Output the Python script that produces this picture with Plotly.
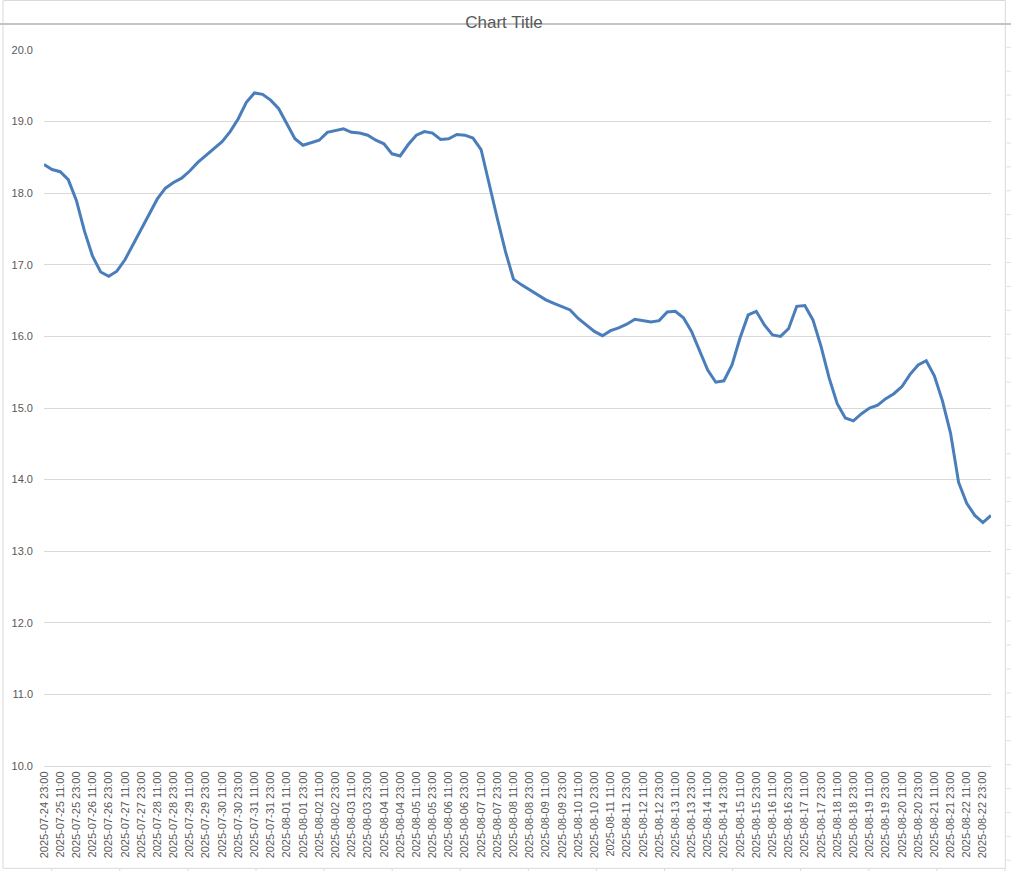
import pandas as pd
import plotly.graph_objects as go

# ---- data ----
start_time = "2025-07-24 23:00"
step_hours = 6
values = [
    18.40, 18.33, 18.30, 18.19, 17.90, 17.47, 17.12, 16.90, 16.84, 16.91,
    17.07, 17.28, 17.49, 17.71, 17.92, 18.07, 18.15, 18.21, 18.31, 18.43,
    18.53, 18.62, 18.72, 18.86, 19.04, 19.27, 19.40, 19.38, 19.30, 19.18,
    18.97, 18.76, 18.67, 18.71, 18.74, 18.85, 18.88, 18.90, 18.85, 18.84,
    18.81, 18.74, 18.69, 18.55, 18.52, 18.68, 18.81, 18.86, 18.84, 18.75,
    18.76, 18.82, 18.81, 18.77, 18.61, 18.12, 17.65, 17.19, 16.80, 16.72,
    16.65, 16.57, 16.51, 16.46, 16.41, 16.37, 16.25, 16.16, 16.07, 16.01,
    16.08, 16.12, 16.17, 16.24, 16.22, 16.20, 16.22, 16.34, 16.35, 16.26,
    16.07, 15.80, 15.53, 15.36, 15.38, 15.60, 15.98, 16.30, 16.35, 16.16,
    16.02, 16.00, 16.11, 16.42, 16.43, 16.23, 15.86, 15.42, 15.06, 14.86,
    14.82, 14.92, 15.00, 15.04, 15.13, 15.20, 15.30, 15.47, 15.60, 15.66,
    15.45, 15.10, 14.65, 13.96, 13.67, 13.50, 13.40, 13.50,
]
categories = [t.strftime("%Y-%m-%d %H:%M") for t in
              pd.date_range(start_time, periods=len(values), freq=f"{step_hours}h")]
tick_labels = categories[::2]
y_ticks = [10.0, 11.0, 12.0, 13.0, 14.0, 15.0, 16.0, 17.0, 18.0, 19.0, 20.0]
title_text = "Chart Title"

# ---- layout geometry (pixels) ----
W, H = 1011, 871
PL, PR, PT, PB = 44, 990.7, 50, 765.7

def px(x):
    return (x - PL) / (PR - PL)

def py(y):
    return (PB - y) / (PB - PT)

FONT = "Liberation Sans"
GREY = "#595959"

fig = go.Figure()
fig.add_trace(go.Scatter(
    x=categories, y=values, mode="lines",
    line=dict(color="#4a7ebb", width=3),
    hoverinfo="skip", showlegend=False,
))

shapes = []
# chart area border
shapes.append(dict(type="rect", xref="paper", yref="paper",
                   x0=px(3), x1=px(1005), y0=py(868), y1=py(0.5),
                   line=dict(color="#d9d9d9", width=1), layer="below"))
# spreadsheet row lines visible at right edge
r = 47.3
while r < H:
    shapes.append(dict(type="line", xref="paper", yref="paper",
                       x0=px(1006), x1=px(W), y0=py(r), y1=py(r),
                       line=dict(color="#e1e1e1", width=1)))
    r += 23.9
# spreadsheet column lines visible at bottom edge
c = 51.7
while c < W:
    shapes.append(dict(type="line", xref="paper", yref="paper",
                       x0=px(c), x1=px(c), y0=py(868.5), y1=py(H),
                       line=dict(color="#d9d9d9", width=1)))
    c += 68.07
# pane line near top
shapes.append(dict(type="line", xref="paper", yref="paper",
                   x0=px(0), x1=px(W), y0=py(24), y1=py(24),
                   line=dict(color="#c4c4c4", width=2)))

fig.update_layout(
    width=W, height=H,
    margin=dict(l=PL, r=W - PR, t=PT, b=H - PB, pad=0),
    paper_bgcolor="white", plot_bgcolor="white",
    title=dict(text=title_text, x=504 / W, xref="container", xanchor="center",
               y=1 - 22 / H, yref="container", yanchor="middle",
               font=dict(family=FONT, size=17, color=GREY)),
    shapes=shapes,
    xaxis=dict(
        type="category", range=[0, len(values) - 1],
        tickmode="array", tickvals=tick_labels, ticktext=tick_labels,
        tickangle=-90, tickfont=dict(family=FONT, size=11, color=GREY),
        showgrid=False, zeroline=False, showline=True,
        linecolor="#d9d9d9", linewidth=1, ticks="",
    ),
    yaxis=dict(
        range=[10, 20], tickmode="array", tickvals=y_ticks,
        tickformat=".1f", tickfont=dict(family=FONT, size=11, color=GREY),
        showgrid=True, gridcolor="#d9d9d9", gridwidth=1,
        zeroline=False, showline=False, ticks="", ticklabelstandoff=10,
    ),
)

fig.write_html("out.html", config={"displayModeBar": False},
               post_script="document.body.style.margin='0';")
